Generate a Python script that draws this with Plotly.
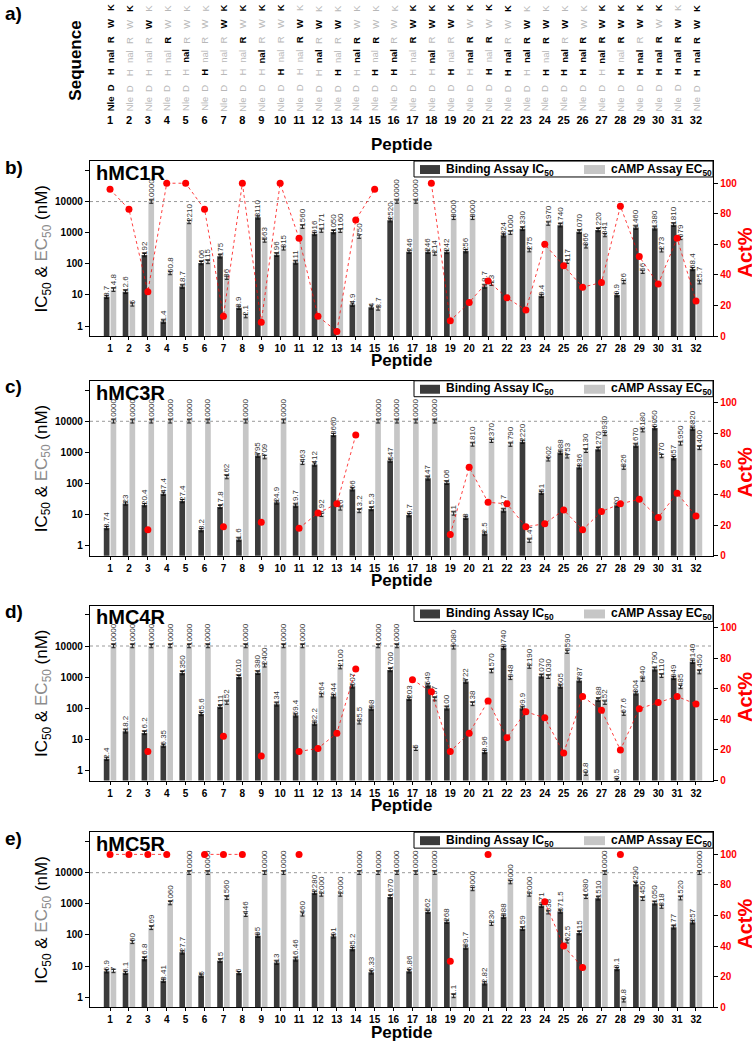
import plotly.graph_objects as go

W, H = 752, 1050
FONT = "Liberation Sans, Arial, sans-serif"


def px(p):
    return p / W


def py(p):
    return 1 - p / H


peptides = list(range(1, 33))

# ---- sequence panel (1 = residue present / black) ----
seq_rows = ["Nle", "D", "H", "nal", "R", "W", "K"]
seq_Nle = [1, 0, 0, 0, 0, 0, 0, 0, 0, 0, 0, 0, 0, 0, 0, 0, 0, 0, 0, 0, 0, 0, 0, 0, 0, 0, 0, 0, 0, 0, 0, 0]
seq_D = [1, 0, 0, 0, 0, 0, 0, 0, 0, 0, 0, 0, 0, 0, 0, 0, 0, 0, 0, 0, 0, 0, 0, 0, 0, 0, 0, 0, 0, 0, 0, 0]
seq_H = [1, 0, 0, 0, 0, 1, 0, 0, 0, 1, 0, 0, 1, 0, 1, 1, 0, 0, 1, 0, 1, 1, 0, 1, 1, 1, 0, 1, 1, 1, 1, 1]
seq_nal = [1, 0, 0, 0, 1, 0, 0, 0, 1, 0, 0, 1, 0, 1, 0, 1, 0, 1, 0, 1, 0, 1, 1, 0, 1, 1, 1, 0, 1, 1, 1, 1]
seq_R = [1, 0, 0, 1, 0, 0, 0, 1, 0, 0, 1, 0, 0, 1, 1, 0, 1, 0, 0, 1, 1, 0, 1, 1, 0, 1, 1, 1, 0, 1, 1, 1]
seq_W = [1, 0, 1, 0, 0, 0, 1, 0, 0, 0, 1, 1, 1, 0, 0, 0, 1, 1, 1, 0, 0, 0, 1, 1, 1, 0, 1, 1, 1, 0, 1, 1]
seq_K = [1, 1, 0, 0, 0, 0, 1, 1, 1, 1, 0, 0, 0, 0, 0, 0, 1, 1, 1, 1, 1, 1, 0, 0, 0, 0, 1, 1, 1, 1, 0, 1]
seq_masks = [seq_Nle, seq_D, seq_H, seq_nal, seq_R, seq_W, seq_K]

# ---- assay data ----
receptors = ["hMC1R", "hMC3R", "hMC4R", "hMC5R"]
panel_letters = ["b)", "c)", "d)", "e)"]
legend_names = ["Binding Assay IC<sub>50</sub>", "cAMP Assay EC<sub>50</sub>"]

mc1r_ic50 = [8.7, 12.6, 192, 1.4, 18.7, 106, 175, 3.9, 3110, 196, 111, 916, 1050, 4.9, 4, 2520,
             246, 246, 242, 256, 18.7, 824, 1330, 9.4, 1740, 1070, 1220, 9.9, 1460, 1380, 1810, 68.4]
mc1r_ec50 = [14.8, 5, 10000, 50.8, 2210, 115, 36, 2.1, 563, 315, 1560, 1171, 1160, 750, 3.7, 10000,
             10000, 214, 3000, 3000, 23, 1000, 275, 1970, 117, 366, 841, 26, 56, 273, 679, 25.7]
mc1r_act = [96, 83, 29, 100, 100, 83, 13, 100, 9, 100, 64, 13, 3, 76, 96, None,
            None, 100, 10, 22, 36, 25, 17, 60, 46, 32, 35, 85, 52, 34, 64, 23]

mc3r_ic50 = [3.74, 23, 20.4, 47.4, 27.4, 3.2, 17.8, 1.6, 795, 24.9, 19.7, 412, 3660, 66, 15.3, 547,
             9.7, 147, 106, 8, 2.5, 13.7, 2220, 51, 988, 336, 1270, 20, 1670, 6050, 657, 5820]
mc3r_ec50 = [10000, 10000, 10000, 10000, 10000, 10000, 162, 10000, 709, 10000, 463, 9.92, 16, 13.2, 10000, 10000,
             10000, 10000, 11, 1810, 2370, 1790, 1.47, 602, 753, 1130, 3930, 326, 5180, 770, 1950, 1400]
mc3r_act = [None, None, 17, None, None, None, 19, None, 22, None, 18, 28, 34, 79, None, None,
            None, None, 14, 58, 35, 34, 19, 21, 30, 17, 29, 34, 37, 25, 41, 26]

mc4r_ic50 = [2.4, 18.2, 16.2, 6.35, 1350, 65.6, 111, 1010, 1380, 134, 59.4, 32.2, 244, 507, 98, 1700,
             203, 549, 100, 722, 3.96, 8740, 99.9, 1070, 505, 787, 188, 0.5, 304, 1790, 949, 3140]
mc4r_ec50 = [10000, 10000, 10000, 10000, 10000, 10000, 152, 10000, 2400, 10000, 10000, 264, 2100, 35.5, 10000, 10000,
             5, 197, 9080, 138, 1570, 948, 2190, 1030, 6590, 0.8, 152, 67.6, 840, 1110, 485, 1450]
mc4r_act = [None, None, 19, None, None, None, 29, None, 16, None, 19, 21, 31, 73, None, None,
            66, 58, 19, 31, 52, 28, 45, 41, 18, 55, 46, 20, 47, 51, 55, 50]

mc5r_ic50 = [6.9, 6.1, 16.8, 3.41, 27.7, 5, 15, 6, 95, 13, 16.46, 2280, 91, 35.2, 6.33, 1670,
             6.86, 562, 268, 39.7, 2.82, 388, 159, 871, 571.5, 115, 1510, 8.1, 4290, 1050, 177, 257]
mc5r_ec50 = [7, 60, 169, 1060, 10000, 10000, 1560, 446, 10000, 10000, 460, 2000, 2000, 10000, 10000, 10000,
             10000, 10000, 1.1, 3000, 230, 5000, 2000, 538, 62.5, 1680, 10000, 0.8, 1450, 818, 1520, 10000]
mc5r_act = [100, 100, 100, 100, None, 100, 100, 100, None, None, 100, None, None, None, None, None,
            None, None, 30, None, 100, None, None, 69, 40, 26, None, 100, None, None, None, None]

ic50_sets = [mc1r_ic50, mc3r_ic50, mc4r_ic50, mc5r_ic50]
ec50_sets = [mc1r_ec50, mc3r_ec50, mc4r_ec50, mc5r_ec50]
act_sets = [mc1r_act, mc3r_act, mc4r_act, mc5r_act]

cutoff = 10000
log_ticks = [1, 10, 100, 1000, 10000, 100000]
log_tick_text = ["1", "10", "100", "1000", "10000", ""]
act_ticks = [0, 20, 40, 60, 80, 100]

# ---- layout geometry (pixels) ----
X_LEFT, X_RIGHT = 90, 713
panel_tops = [162, 383, 609, 837]
PANEL_H = 176
X_RANGE = [-0.06, 32.9]

DARK = "#3b3b3b"
LIGHT = "#c6c6c6"

fig = go.Figure()
annotations = []
shapes = []
layout = dict(
    width=W, height=H, margin=dict(l=0, r=0, t=0, b=0),
    paper_bgcolor="white", plot_bgcolor="white",
    font=dict(family=FONT, color="black"),
    barmode="overlay", showlegend=False,
)


def note(x, y, text, size, weight="normal", color="black", angle=0, xanchor="center"):
    annotations.append(dict(x=px(x), y=py(y), xref="paper", yref="paper", text=text,
                            textangle=angle, showarrow=False, xanchor=xanchor, yanchor="middle",
                            font=dict(size=size, weight=weight, color=color, family=FONT)))


# ---- sequence panel ----
layout["xaxis"] = dict(domain=[px(X_LEFT), px(X_RIGHT)], range=X_RANGE, tickvals=peptides,
                       showline=False, showgrid=False, zeroline=False, ticks="",
                       tickfont=dict(size=11, weight="bold"), anchor="y")
layout["yaxis"] = dict(domain=[py(113), py(0)], range=[-0.5, 6.5], visible=False, anchor="x")
fig.add_trace(go.Scatter(x=[peptides[0], peptides[-1]], y=[0, 6], mode="markers",
                         marker=dict(opacity=0), xaxis="x", yaxis="y", showlegend=False,
                         hoverinfo="skip"))
for ri, (name, mask) in enumerate(zip(seq_rows, seq_masks)):
    for p, on in zip(peptides, mask):
        annotations.append(dict(
            x=p, y=ri, xref="x", yref="y", text=name, showarrow=False, textangle=-90,
            xanchor="center", yanchor="middle",
            font=dict(size=9.5, color="black" if on else "#b8b8b8",
                      weight="bold" if on else "normal")))
note(76, 61, "Sequence", 17, "bold", angle=-90)
note(401, 145, "Peptide", 17, "bold")
note(3, 14, "a)", 19, "bold", xanchor="left")

# ---- assay panels ----
for i in range(4):
    xa = f"x{i + 2}"
    yl = f"y{2 * i + 2}"
    yr = f"y{2 * i + 3}"
    top = panel_tops[i]
    bot = top + PANEL_H
    dom_y = [py(bot), py(top)]

    layout[f"xaxis{i + 2}"] = dict(
        domain=[px(X_LEFT), px(X_RIGHT)], range=X_RANGE, tickvals=peptides, anchor=yl,
        showline=True, linecolor="black", linewidth=1.3, mirror=True, ticks="outside",
        ticklen=3, tickcolor="black", showgrid=False, zeroline=False,
        tickfont=dict(size=10, weight="bold"))
    layout[f"yaxis{2 * i + 2}"] = dict(
        domain=dom_y, type="log", range=[-0.32, 5.3], tickvals=log_ticks, ticktext=log_tick_text,
        anchor=xa, showline=True, linecolor="black", linewidth=1.3, mirror=True,
        ticks="outside", ticklen=4, tickcolor="black", showgrid=False, zeroline=False,
        tickfont=dict(size=10, weight="bold"))
    layout[f"yaxis{2 * i + 3}"] = dict(
        domain=dom_y, overlaying=yl, side="right", anchor=xa, range=[0, 114.5],
        tickvals=act_ticks, showline=True, linecolor="black", linewidth=1.3,
        ticks="outside", ticklen=4, tickcolor="black", showgrid=False, zeroline=False,
        tickfont=dict(size=10, weight="bold", color="red"))

    ic = ic50_sets[i]
    ec = ec50_sets[i]
    fig.add_trace(go.Bar(
        x=peptides, y=ic, offset=-0.33, width=0.3, marker=dict(color=DARK, line=dict(width=0)),
        text=[f"{v:g}" for v in ic], textposition="outside", textangle=-90,
        textfont=dict(size=8, color="#333333"), constraintext="none", cliponaxis=False,
        error_y=dict(type="percent", value=12, thickness=1, width=2, color="#111111"),
        name=legend_names[0], xaxis=xa, yaxis=yl, showlegend=False))
    fig.add_trace(go.Bar(
        x=peptides, y=ec, offset=0.03, width=0.3, marker=dict(color=LIGHT, line=dict(width=0)),
        text=[f"{v:g}" for v in ec], textposition="outside", textangle=-90,
        textfont=dict(size=8, color="#333333"), constraintext="none", cliponaxis=False,
        error_y=dict(type="percent", value=12, thickness=1, width=2, color="#222222"),
        name=legend_names[1], xaxis=xa, yaxis=yl, showlegend=False))
    fig.add_trace(go.Scatter(
        x=peptides, y=act_sets[i], mode="lines+markers", connectgaps=False,
        line=dict(color="rgba(255,0,0,0.75)", width=1, dash="dot"),
        marker=dict(size=7, color="red"), cliponaxis=False,
        xaxis=xa, yaxis=yr, showlegend=False, name="Act%"))

    # cutoff line at 10000 nM
    shapes.append(dict(type="line", xref=f"{xa} domain", x0=0, x1=1, yref=yl,
                       y0=cutoff, y1=cutoff,
                       line=dict(color="#9a9a9a", width=1, dash="dot"), layer="below"))

    # legend box (drawn as shapes + text)
    shapes.append(dict(type="rect", xref="paper", yref="paper",
                       x0=px(414), x1=px(X_RIGHT), y0=py(top + 16), y1=py(top),
                       line=dict(color="black", width=1), fillcolor="white", layer="above"))
    shapes.append(dict(type="rect", xref="paper", yref="paper",
                       x0=px(420), x1=px(440), y0=py(top + 13), y1=py(top + 4),
                       line=dict(width=0), fillcolor=DARK, layer="above"))
    shapes.append(dict(type="rect", xref="paper", yref="paper",
                       x0=px(584), x1=px(605), y0=py(top + 13), y1=py(top + 4),
                       line=dict(width=0), fillcolor=LIGHT, layer="above"))
    note(444, top + 8.5, legend_names[0], 12, "bold", xanchor="left")
    note(609, top + 8.5, legend_names[1], 12, "bold", xanchor="left")

    note(94, top + 12, receptors[i], 20, "bold", xanchor="left")
    note(3, top + 6, panel_letters[i], 19, "bold", xanchor="left")
    note(43, top + 88,
         "IC<sub>50</sub> &amp; <span style='color:#8c8c8c'>EC<sub>50</sub></span> (nM)",
         17, angle=-90)
    note(745, top + 92, "Act%", 20, "bold", color="red", angle=-90)
    note(401, bot + 25, "Peptide", 17, "bold")

layout["annotations"] = annotations
layout["shapes"] = shapes
fig.update_layout(**layout)
fig.write_html("out.html", config={"displayModeBar": False},
               post_script="document.body.style.margin='0px';")
